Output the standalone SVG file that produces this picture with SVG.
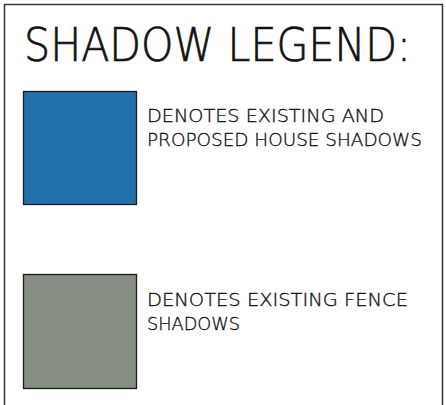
<svg xmlns="http://www.w3.org/2000/svg" width="446" height="405" viewBox="0 0 446 405">
<style>
.t{font-family:"DejaVu Sans","Liberation Sans",sans-serif;font-weight:200;fill:#111;stroke:#111}
.title{font-size:41px;stroke-width:0.6}
.body{font-size:18.5px;stroke-width:0.35}
.sw{stroke:#1a1a1a;stroke-width:1.3}
</style>
<rect width="446" height="405" fill="#fff"/>
<path d="M4.5,405 V4.5 H442.5 V405" fill="none" stroke="#333" stroke-width="1.5"/>
<text class="t title" x="24" y="54" transform="scale(1,1.13)" textLength="387" lengthAdjust="spacingAndGlyphs">SHADOW LEGEND:</text>
<g id="house">
<rect class="sw" x="23.5" y="91.5" width="113" height="113" fill="#2371ab"/>
<text class="t body" x="147" y="122" textLength="237" lengthAdjust="spacingAndGlyphs">DENOTES EXISTING AND</text>
<text class="t body" x="147" y="146" textLength="275" lengthAdjust="spacingAndGlyphs">PROPOSED HOUSE SHADOWS</text>
</g>
<g id="fence">
<rect class="sw" x="23.5" y="274.5" width="113" height="114" fill="#868d82"/>
<text class="t body" x="147" y="306" textLength="261" lengthAdjust="spacingAndGlyphs">DENOTES EXISTING FENCE</text>
<text class="t body" x="147" y="330" textLength="93" lengthAdjust="spacingAndGlyphs">SHADOWS</text>
</g>
</svg>
